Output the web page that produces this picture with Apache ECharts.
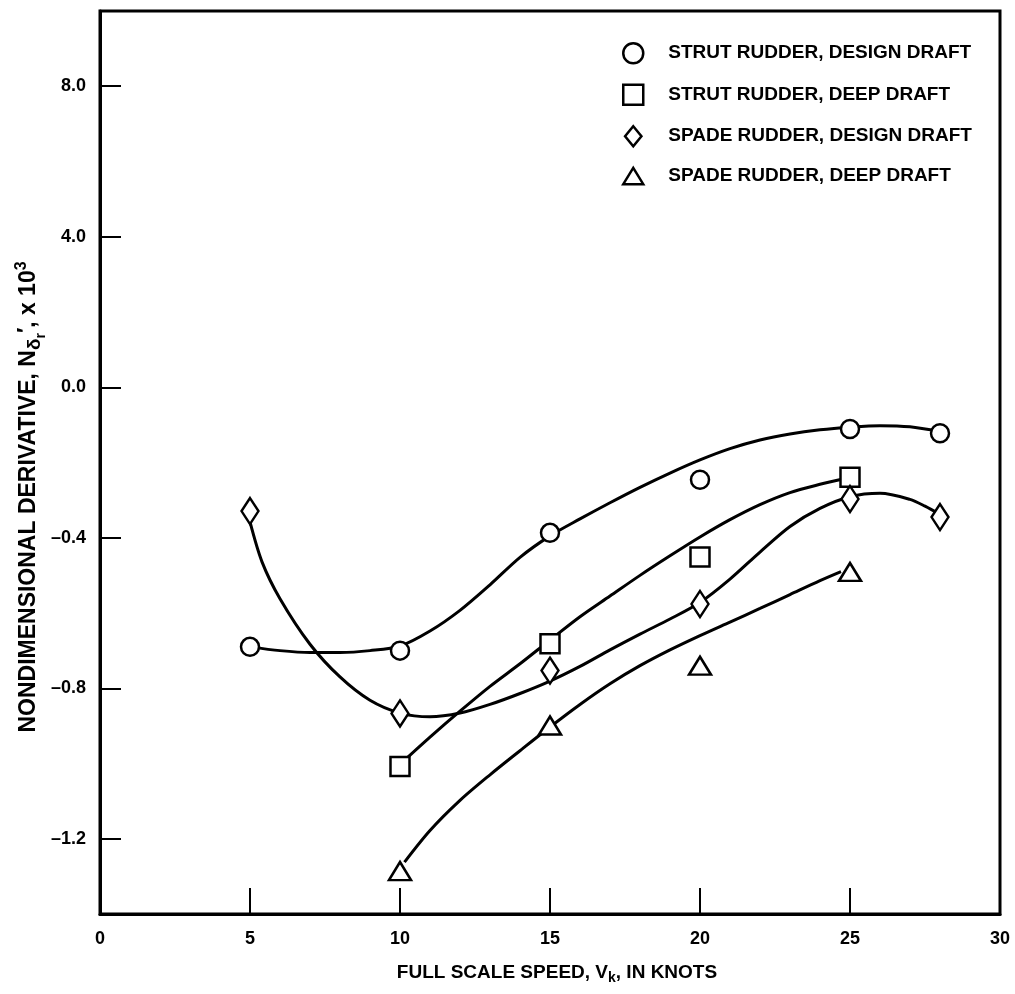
<!DOCTYPE html>
<html><head><meta charset="utf-8">
<script src="https://cdn.jsdelivr.net/npm/echarts@6/dist/echarts.min.js"></script>
<style>html,body{margin:0;padding:0;background:#fff}#c{width:1015px;height:994px}</style>
</head><body><div id="c"></div>
<script>
// ---- data ----
const seriesNames = ['STRUT RUDDER, DESIGN DRAFT', 'STRUT RUDDER, DEEP DRAFT', 'SPADE RUDDER, DESIGN DRAFT', 'SPADE RUDDER, DEEP DRAFT'];
const circlePts   = [[5, -0.690], [10, -0.700], [15, -0.387], [20, -0.246], [25, -0.111], [28, -0.122]];
const squarePts   = [[10, -1.008], [15, -0.682], [20, -0.451], [25, -0.239]];
const diamondPts  = [[5, -0.329], [10, -0.867], [15, -0.753], [20, -0.576], [25, -0.297], [28, -0.345]];
const trianglePts = [[10, -1.286], [15, -0.899], [20, -0.740], [25, -0.491]];

// faired curves
const circleCurve = [[5.0, -0.690], [6.0, -0.700], [7.0, -0.705], [8.0, -0.705], [9.0, -0.700], [10.0, -0.688], [11.0, -0.648], [12.0, -0.593], [13.0, -0.525], [14.0, -0.452], [15.0, -0.395], [16.0, -0.350], [17.0, -0.307], [18.0, -0.266], [19.0, -0.228], [20.0, -0.193], [21.0, -0.163], [22.0, -0.140], [23.0, -0.124], [24.0, -0.113], [25.0, -0.106], [26.0, -0.102], [27.0, -0.105], [28.0, -0.118]];
const squareCurve = [[10.1, -0.995], [11.0, -0.930], [12.0, -0.861], [13.0, -0.795], [14.0, -0.735], [15.0, -0.672], [16.0, -0.610], [17.0, -0.555], [18.0, -0.500], [19.0, -0.448], [20.0, -0.398], [21.0, -0.352], [22.0, -0.312], [23.0, -0.280], [24.0, -0.258], [24.8, -0.243]];
const diamondCurve = [[5.0, -0.358], [5.4, -0.464], [6.0, -0.562], [7.0, -0.683], [8.0, -0.770], [9.0, -0.832], [10.0, -0.866], [11.0, -0.876], [12.0, -0.866], [13.0, -0.843], [14.0, -0.814], [15.0, -0.781], [16.0, -0.742], [17.0, -0.698], [18.0, -0.656], [19.0, -0.616], [20.0, -0.572], [21.0, -0.510], [22.0, -0.438], [23.0, -0.370], [24.0, -0.322], [25.0, -0.291], [26.0, -0.282], [27.0, -0.298], [27.5, -0.316], [28.0, -0.338]];
const triangleCurve = [[10.15, -1.262], [11.0, -1.178], [12.0, -1.098], [13.0, -1.030], [14.0, -0.966], [15.0, -0.903], [16.0, -0.843], [17.0, -0.788], [18.0, -0.740], [19.0, -0.698], [20.0, -0.660], [21.0, -0.624], [22.0, -0.588], [23.0, -0.551], [24.0, -0.514], [24.7, -0.490]];

const xTickValues = [0, 5, 10, 15, 20, 25, 30];
const yTickValues = [-1.2, -0.8, -0.4, 0, 0.4, 0.8];
const yTickLabels = ['\u20131.2', '\u20130.8', '\u20130.4', '0.0', '4.0', '8.0'];

// ---- chart ----
const FONT = '"Liberation Sans", Arial, sans-serif';
const chart = echarts.init(document.getElementById('c'), null, {renderer: 'canvas'});

const markerStyle = {color: '#fff', borderColor: '#000', borderWidth: 2.5, opacity: 1};
const curveStyle = {color: '#000', width: 3};

function curve(name, data) {
  return {name: name, type: 'line', data: data, smooth: 0.3, showSymbol: false, symbol: 'none',
    lineStyle: curveStyle, itemStyle: {color: '#000'}, silent: true, z: 2, animation: false};
}
function pts(name, data, symbol, size) {
  return {name: name, type: 'scatter', data: data, symbol: symbol, symbolSize: size,
    itemStyle: markerStyle, emphasis: {disabled: true}, z: 3, animation: false};
}

const legendIcons = ['circle', 'rect', 'path://M0,-11L9,0L0,11L-9,0Z', 'path://M0,-9L11,9L-11,9Z'];

chart.setOption({
  animation: false,
  backgroundColor: '#fff',
  grid: {left: 100, top: 11, right: 15, bottom: 80, show: true, borderColor: '#000', borderWidth: 3, containLabel: false},
  legend: {
    data: seriesNames.map((n, i) => ({name: n, icon: legendIcons[i]})),
    orient: 'vertical', left: 617, top: 37,
    itemWidth: 20, itemHeight: 20, itemGap: 19,
    textStyle: {fontFamily: FONT, fontWeight: 'bold', fontSize: 19, color: '#000', padding: [0, 0, 0, 20]},
    itemStyle: {color: '#fff', borderColor: '#000', borderWidth: 2.5, opacity: 1}
  },
  xAxis: {
    type: 'value', min: 0, max: 30, interval: 5,
    axisLine: {show: true, onZero: false, lineStyle: {color: '#000', width: 3}},
    axisTick: {show: true, inside: true, length: 26, lineStyle: {color: '#000', width: 2}},
    axisLabel: {margin: 16, color: '#000', fontFamily: FONT, fontWeight: 'bold', fontSize: 18, showMinLabel: true, showMaxLabel: true},
    splitLine: {show: false},
    name: '{a|FULL SCALE SPEED, V}{s|k}{a|, IN KNOTS}',
    nameLocation: 'middle', nameGap: 48,
    nameTextStyle: {
      padding: [0, 0, 0, 14],
      rich: {
        a: {fontFamily: FONT, fontWeight: 'bold', fontSize: 19, color: '#000', lineHeight: 22},
        s: {fontFamily: FONT, fontWeight: 'bold', fontSize: 14, color: '#000', lineHeight: 22, padding: [10, 0, 0, 0]}
      }
    }
  },
  yAxis: {
    type: 'value', min: -1.4, max: 1.0,
    axisLine: {show: true, onZero: false, lineStyle: {color: '#000', width: 3}},
    axisTick: {show: true, inside: true, length: 21, customValues: yTickValues, lineStyle: {color: '#000', width: 2}},
    axisLabel: {
      customValues: yTickValues, margin: 14, color: '#000', fontFamily: FONT, fontWeight: 'bold', fontSize: 18,
      formatter: function (v) {
        for (let i = 0; i < yTickValues.length; i++) if (Math.abs(v - yTickValues[i]) < 1e-9) return yTickLabels[i];
        return '';
      }
    },
    splitLine: {show: false}
  },
  graphic: [{
    type: 'text', x: 29, y: 497, rotation: Math.PI / 2, silent: true,
    style: {
      text: '{a|NONDIMENSIONAL DERIVATIVE, N}{s|\u03b4}{ss|r}{p|\u2032}{a|, x 10}{sup|3}',
      align: 'center', verticalAlign: 'middle',
      rich: {
        a: {fontFamily: FONT, fontWeight: 'bold', fontSize: 23, fill: '#000', lineHeight: 28},
        s: {fontFamily: FONT, fontWeight: 'bold', fontSize: 19, fill: '#000', lineHeight: 28, padding: [11, 0, 0, 0]},
        ss: {fontFamily: FONT, fontWeight: 'bold', fontSize: 14, fill: '#000', lineHeight: 28, padding: [24, 0, 0, 0]},
        p: {fontFamily: FONT, fontWeight: 'bold', fontSize: 22, fill: '#000', lineHeight: 28, padding: [0, 0, 6, 0]},
        sup: {fontFamily: FONT, fontWeight: 'bold', fontSize: 16, fill: '#000', lineHeight: 28, padding: [0, 0, 15, 0]}
      }
    }
  }],
  series: [
    curve('c1', circleCurve),
    curve('c2', squareCurve),
    curve('c3', diamondCurve),
    curve('c4', triangleCurve),
    pts(seriesNames[0], circlePts, 'circle', 18),
    pts(seriesNames[1], squarePts, 'rect', [19, 19]),
    pts(seriesNames[2], diamondPts, 'diamond', [17, 26]),
    pts(seriesNames[3], trianglePts, 'triangle', [22, 18])
  ]
});
</script></body></html>
